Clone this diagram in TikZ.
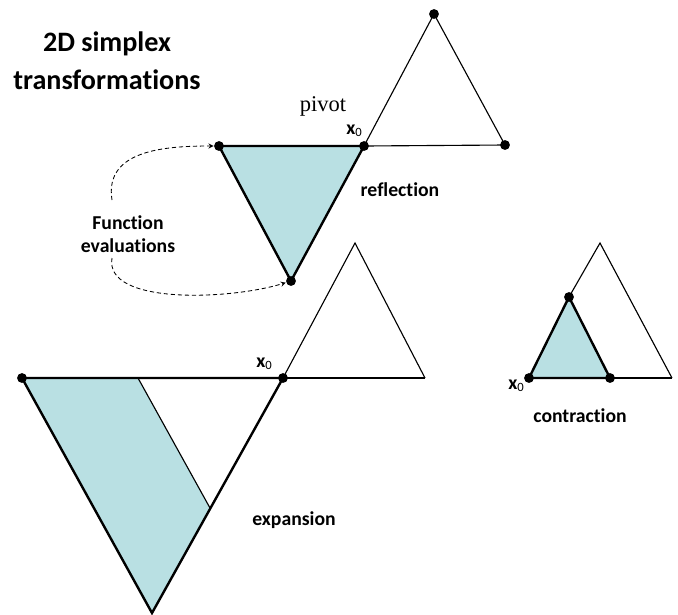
\documentclass[tikz,border=0pt]{standalone}
\usepackage{fontspec}
\setmainfont{Carlito}[Ligatures=NoCommon]
\newfontfamily\pivotfont{Liberation Serif}
\definecolor{simplexblue}{RGB}{185,224,227}
\definecolor{baseline}{RGB}{140,140,140}
\newcommand{\xzero}{\textbf{x}\raisebox{-0.2ex}{\fontsize{9}{9}\selectfont 0}}

\begin{document}
\begin{tikzpicture}[x=0.025cm,y=-0.025cm,>=stealth,line width=0.8pt,
  thick edge/.style={line width=1.7pt},
  vertex/.style={circle,fill=black,inner sep=0pt,minimum size=7pt},
  lbl/.style={font=\bfseries\fontsize{14}{16}\selectfont,align=center},
  xlbl/.style={font=\fontsize{14}{14}\selectfont,inner sep=0pt},
  evalarrow/.style={->,dash pattern=on 3pt off 2pt,line width=0.6pt}]
  \useasboundingbox (0,0) rectangle (678,614);

  \coordinate (RA) at (434,14);
  \coordinate (RB) at (505,145);
  \coordinate (R0) at (364,146);
  \coordinate (RC) at (219,146);
  \coordinate (RD) at (291,281);

  \coordinate (EA) at (355,243);
  \coordinate (EB) at (425,378);
  \coordinate (E0) at (283,378);
  \coordinate (EC) at (22,378);
  \coordinate (ED) at (152,613);
  \coordinate (EF) at (138,378);
  \coordinate (EG) at (210,508);

  \coordinate (CA) at (600,243);
  \coordinate (CB) at (672,378);
  \coordinate (C0) at (529,378);
  \coordinate (CC) at (610,378);
  \coordinate (CD) at (569,297);

  \coordinate (FT) at (112,200);
  \coordinate (FB) at (112,258);

  % reflection
  \fill[simplexblue] (R0) -- (RC) -- (RD) -- cycle;
  \draw (R0) -- (RA) -- (RB) -- (R0);
  \draw[thick edge] (R0) -- (RC) -- (RD) -- cycle;

  % expansion
  \fill[simplexblue] (EC) -- (EF) -- (EG) -- (ED) -- cycle;
  \draw (E0) -- (EA) -- (EB);
  \draw[baseline] (E0) -- (EB);
  \draw (EF) -- (EG);
  \draw[thick edge] (E0) -- (EC) -- (ED) -- (E0);

  % contraction
  \fill[simplexblue] (C0) -- (CC) -- (CD) -- cycle;
  \draw (CD) -- (CA) -- (CB);
  \draw[baseline] (CC) -- (CB);
  \draw[thick edge] (C0) -- (CC) -- (CD) -- cycle;

  % vertices
  \foreach \p in {RA,RB,R0,RC,RD,E0,EC,C0,CC,CD}
    \node[vertex] (v\p) at (\p) {};

  % function evaluations
  \draw[evalarrow] (FT) .. controls (104,150) and (165,146) .. (vRC);
  \draw[evalarrow] (FB) .. controls (104,305) and (230,300) .. (vRD);

  % labels
  \node[font=\bfseries\fontsize{20}{27}\selectfont,align=center] (title) at (107,61) {2D simplex\\transformations};
  \node[font=\pivotfont\fontsize{16}{16}\selectfont] (pivot) at (323,106) {pivot};
  \node[xlbl] (x0r) at (354,131) {\xzero};
  \node[xlbl] (x0e) at (264,364) {\xzero};
  \node[xlbl] (x0c) at (516,386) {\xzero};
  \node[lbl] (refl) at (400,190) {reflection};
  \node[lbl] (feval) at (128,234) {Function\\evaluations};
  \node[lbl] (expn) at (294,520) {expansion};
  \node[lbl] (contr) at (580,416) {contraction};
\end{tikzpicture}
\end{document}
